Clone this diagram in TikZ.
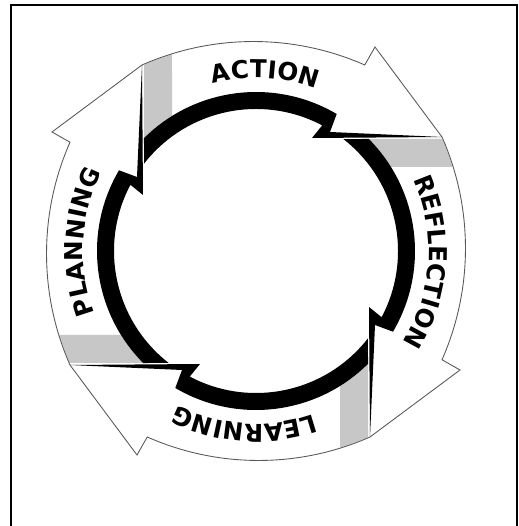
\documentclass[tikz,border=0pt]{standalone}
\usepackage{fontspec}
\newfontfamily\labelfont{DejaVu Sans}
\newcommand\labelstyle{\labelfont\bfseries\fontsize{14}{16}\selectfont}
\usetikzlibrary{decorations.text}
\tikzset{
  outline/.style={draw=black!65,line width=0.5pt,line join=miter},
  tailshade/.style={fill=black!22},
  ringpart/.style={fill=black},
  frameline/.style={line width=1.2pt}
}
\begin{document}
\begin{tikzpicture}[x=0.02cm,y=0.02cm]
  \useasboundingbox (-256,-275) rectangle (263,251);
  \draw[frameline] (-245,-275) -- (-245,246) -- (261,246) -- (261,-275);
  \foreach \ang/\lab/\half [evaluate=\half as \sa using 87+\half,
      evaluate=\half as \ea using 87-\half] in
      {0/ACTION/17.5,-90/REFLECTION/27.5,-180/LEARNING/22.5,-270/PLANNING/24}{
    \begin{scope}[rotate=\ang]
      \coordinate (tail) at (-114,186);
      \coordinate (barb) at (119,204);
      \coordinate (tip) at (186,114);
      % shaded end of the band
      \fill[tailshade] (-112,112.9) -- (-112,186.3) arc[start angle=113.4,end angle=107.2,radius=276]
        -- (-84,135) arc[start angle=121.9,end angle=134.8,radius=159] -- cycle;
      % outer edge and head
      \draw[outline] (tail) arc[start angle=113.8,end angle=66.2,radius=276] -- (barb) -- (tip);
      % ring with the jag
      \fill[ringpart] (134.8:159) arc[start angle=134.8,end angle=59.5,radius=159]
        -- (74,119) -- (tip) -- (56,113) -- (62.2:142)
        arc[start angle=62.2,end angle=142,radius=142] -- cycle;
      \path[decorate,decoration={text along path,
          text/.expanded={|\noexpand\labelstyle|\lab},text align={fit to path}}]
        (\sa:173) arc[start angle=\sa,end angle=\ea,radius=173];
    \end{scope}
  }
\end{tikzpicture}
\end{document}
